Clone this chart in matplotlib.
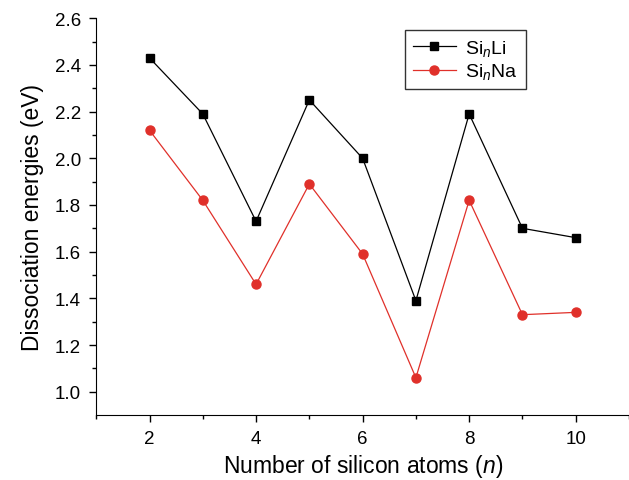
import numpy as np
import matplotlib
matplotlib.use('Agg')
import matplotlib.pyplot as plt

plt.rcParams['font.family'] = ['Liberation Sans', 'DejaVu Sans']
plt.rcParams['mathtext.fontset'] = 'custom'
plt.rcParams['mathtext.rm'] = 'Liberation Sans'
plt.rcParams['mathtext.it'] = 'Liberation Sans:italic'

# Data
N_ATOMS = [2, 3, 4, 5, 6, 7, 8, 9, 10]
SI_LI = [2.43, 2.19, 1.73, 2.25, 2.00, 1.39, 2.19, 1.70, 1.66]
SI_NA = [2.12, 1.82, 1.46, 1.89, 1.59, 1.06, 1.82, 1.33, 1.34]

fig = plt.figure(figsize=(6.29, 4.81), dpi=100)
ax = fig.add_axes([0.153, 0.135, 0.847, 0.825])

ax.plot(N_ATOMS, SI_LI, c='black', lw=0.9, marker='s', ms=6,
        label=r'Si$_{\mathit{n}}$Li')
ax.plot(N_ATOMS, SI_NA, c='#e0302a', lw=0.9, marker='o', ms=6.5,
        label=r'Si$_{\mathit{n}}$Na')

ax.set_xlim(1, 11)
ax.set_ylim(0.9, 2.6)
ax.set_xticks([2, 4, 6, 8, 10])
ax.set_xticks([1, 3, 5, 7, 9, 11], minor=True)
ax.set_yticks(np.arange(1.0, 2.61, 0.2))
ax.set_yticks(np.arange(1.1, 2.6, 0.2), minor=True)
ax.tick_params(which='major', direction='out', length=5, width=1,
               labelsize=13.5, pad=6)
ax.tick_params(which='minor', direction='out', length=3, width=1)
ax.spines['top'].set_visible(False)
ax.spines['right'].set_visible(False)
ax.set_xlabel(r'Number of silicon atoms ($\mathit{n}$)', fontsize=16.5,
              labelpad=3)
ax.set_ylabel('Dissociation energies (eV)', fontsize=16.5, labelpad=8)

leg = ax.legend(loc='upper left', bbox_to_anchor=(0.644, 0.936),
                bbox_transform=fig.transFigure, borderaxespad=0,
                fontsize=14, frameon=True, fancybox=False,
                edgecolor='black', handlelength=2.2, borderpad=0.4,
                labelspacing=0.2, handletextpad=0.5)
leg.get_frame().set_linewidth(1)

plt.savefig('out.png', dpi=100)
